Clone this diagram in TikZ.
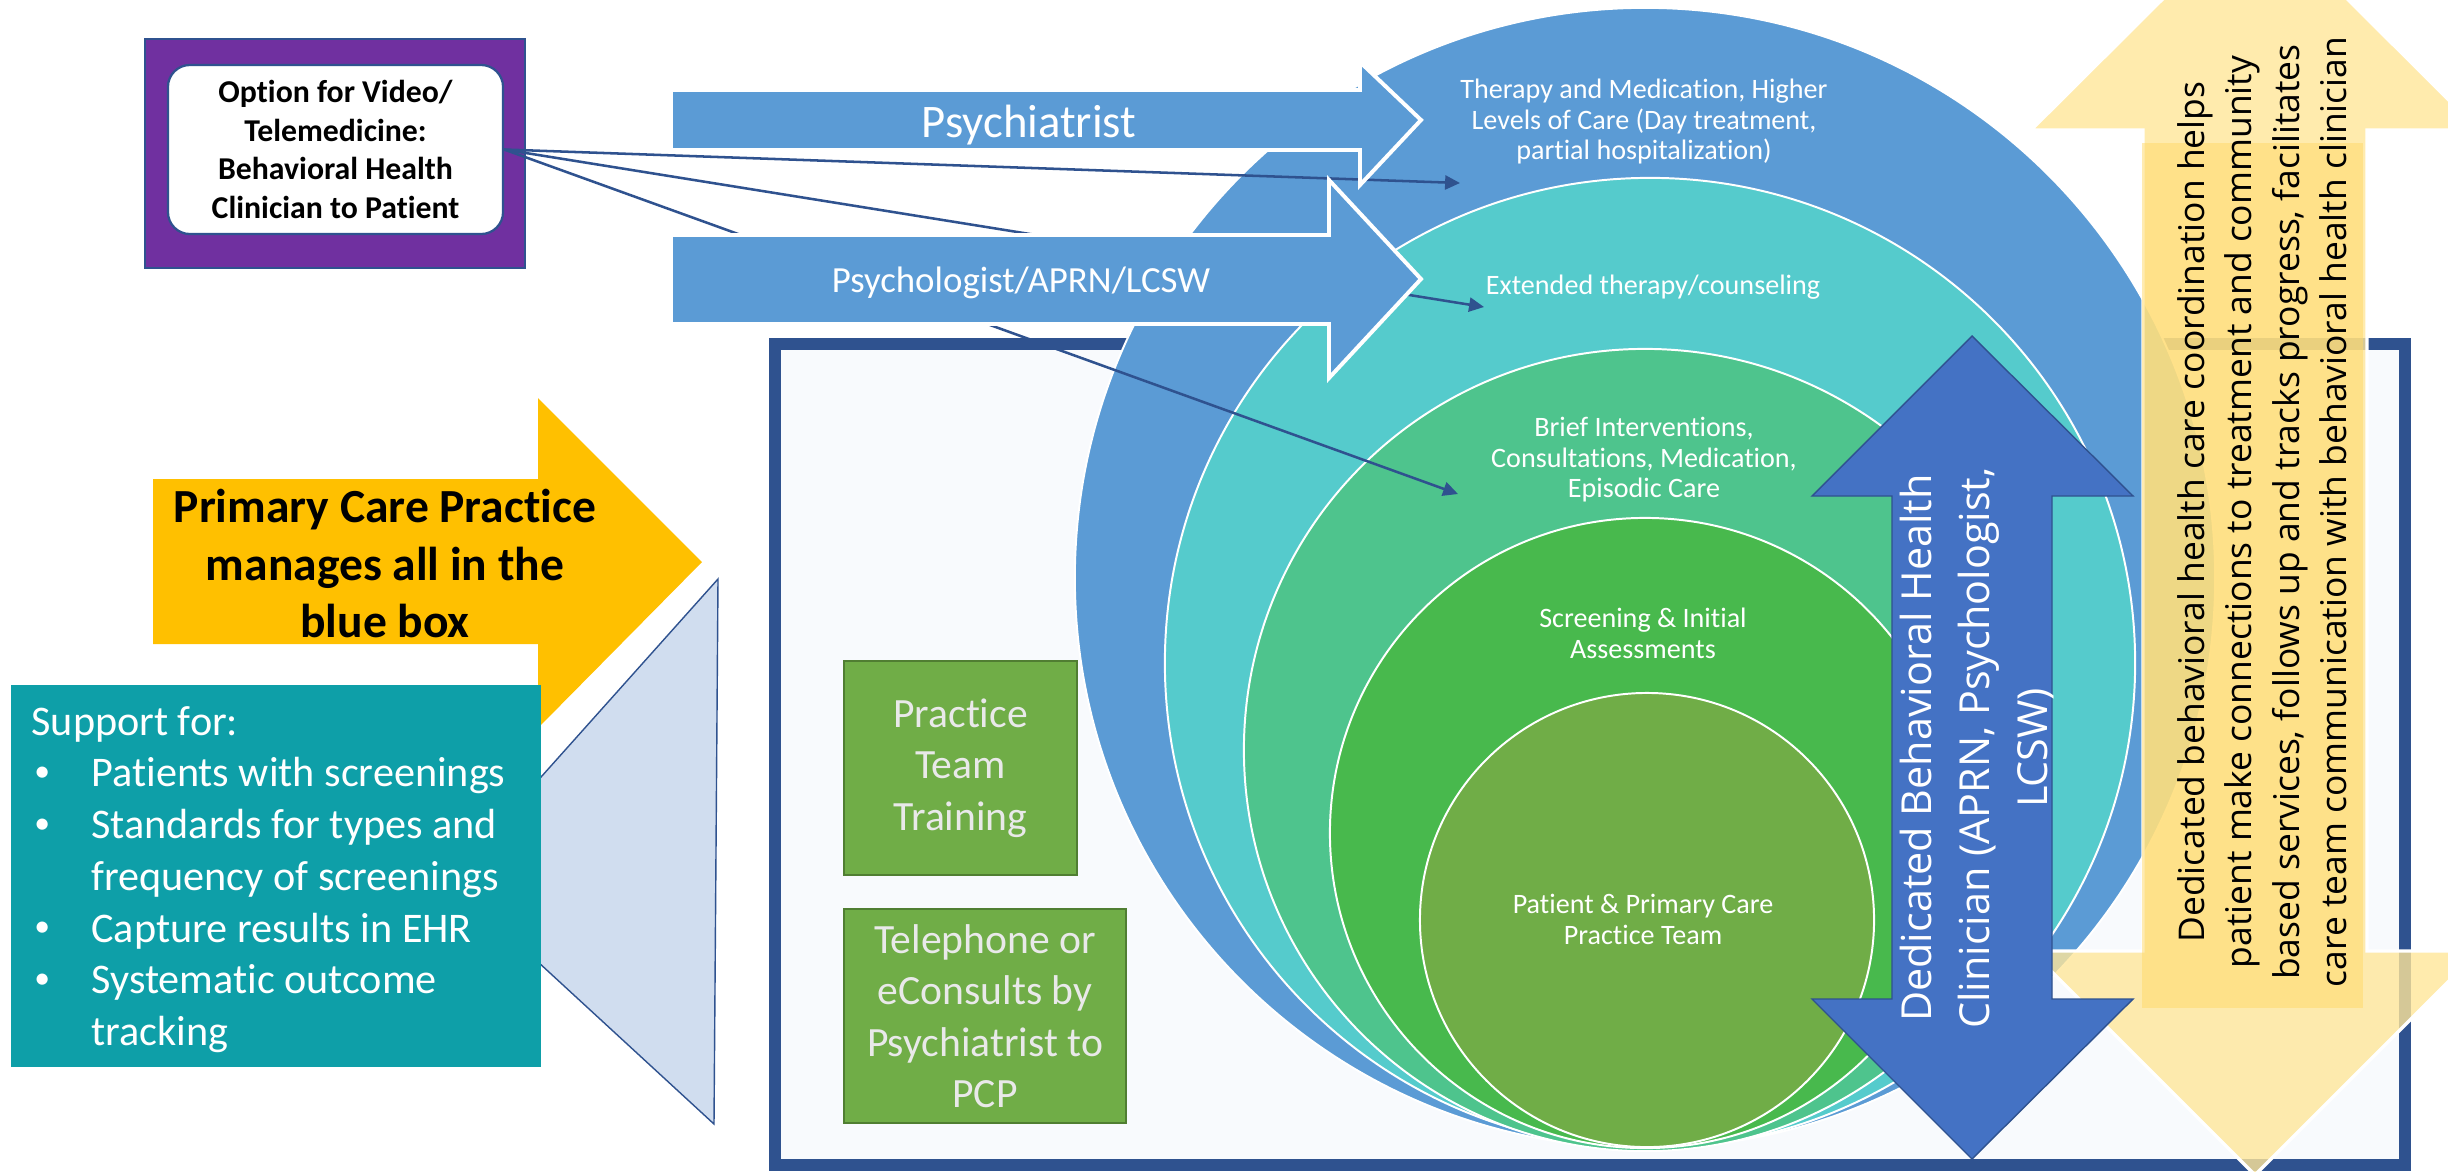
\documentclass[tikz,border=0pt]{standalone}
\usepackage{fontspec}
\setmainfont{Carlito}[Ligatures=NoCommon]
\newfontfamily\segoe{Open Sans}
\usetikzlibrary{arrows.meta}

\definecolor{frameblue}{HTML}{2F528F}
\definecolor{framefill}{HTML}{F8FAFD}
\definecolor{vidpurple}{HTML}{7030A0}
\definecolor{arrowblue}{HTML}{5B9BD5}
\definecolor{ringblue}{HTML}{5B9BD5}
\definecolor{ringteal}{HTML}{55CBCC}
\definecolor{ringmint}{HTML}{4EC48D}
\definecolor{ringgreen}{HTML}{48B94D}
\definecolor{ringolive}{HTML}{70AD47}
\definecolor{dblblue}{HTML}{4472C4}
\definecolor{goldlight}{HTML}{FFE699}
\definecolor{goldmid}{HTML}{FFD966}
\definecolor{primgold}{HTML}{FFC000}
\definecolor{supteal}{HTML}{0E9FA8}
\definecolor{funnel}{HTML}{D0DDEF}
\definecolor{boxgreen}{HTML}{70AD47}
\definecolor{boxgreenedge}{HTML}{507E32}
\definecolor{boxtext}{HTML}{E9E9E9}

\newcommand{\listdot}{\makebox[21.3pt][l]{\hspace{1pt}\raisebox{0.12em}{\scalebox{0.75}{\textbullet}}}}

\tikzset{
  ring/.style={draw=white, line width=0.7pt},
  ringtext/.style={text=white, align=center, inner sep=0pt, font=\fontsize{10}{10.85}\selectfont},
  blockarrow/.style={fill=arrowblue, draw=white, line width=1.4pt},
  link/.style={draw=frameblue, line width=0.9pt, -{Triangle[length=5.3pt,width=5pt]}},
  greenbox/.style={fill=boxgreen, draw=boxgreenedge, line width=0.7pt, inner sep=0pt,
    text=boxtext, align=center, font=\fontsize{14.8}{18.3}\selectfont},
}

\begin{document}
\begin{tikzpicture}[x=0.0125cm, y=-0.0125cm]
\useasboundingbox (0,0) rectangle (2448,1171);
\fill[white] (0,0) rectangle (2448,1171);
\clip (0,0) rectangle (2448,1171);

% video / telemedicine option
\node[fill=vidpurple, draw=frameblue, line width=0.5pt, inner sep=0pt,
      minimum width=4.75cm, minimum height=2.8625cm] (videoframe) at (335,153.5) {};
\node[fill=white, draw=frameblue, line width=0.8pt, rounded corners=7.8pt, inner sep=0pt,
      minimum width=4.1875cm, minimum height=2.1125cm, align=center,
      font=\bfseries\fontsize{11.3}{13.7}\selectfont] (video) at (335.5,149.5)
      {Option for Video/\\Telemedicine:\\Behavioral Health\\Clinician to Patient};

% practice frame
\draw[frameblue, fill=framefill, line width=4.27pt] (775,344) rectangle (2405,1165);

% nested levels of care
\path[ring, fill=ringblue]  (1645,578) circle [radius=7.125cm];
\path[ring, fill=ringteal]  (1650,663) circle [radius=6.0625cm];
\path[ring, fill=ringmint]  (1645,750) circle [radius=5.0125cm];
\path[ring, fill=ringgreen] (1645,833) circle [radius=3.9375cm];
\path[ring, fill=ringolive] (1647,920) circle [radius=2.8375cm];

\node[ringtext] (lvl5) at (1644,121.5) {Therapy and Medication, Higher\\Levels of Care (Day treatment,\\partial hospitalization)};
\node[ringtext] (lvl4) at (1653,287) {Extended therapy/counseling};
\node[ringtext] (lvl3) at (1644,460) {Brief Interventions,\\Consultations, Medication,\\Episodic Care};
\node[ringtext] (lvl2) at (1643,633.5) {Screening \& Initial\\Assessments};
\node[ringtext] (lvl1) at (1643,919.5) {Patient \& Primary Care\\Practice Team};

% telemedicine links
\coordinate (endA) at (1460,183);
\coordinate (endB) at (1484,307);
\coordinate (endC) at (1458,494);
\draw[link] (video.east) -- (endA);
\draw[link] (video.east) -- (endB);
\draw[link] (video.east) -- (endC);

% referral arrows
\path[blockarrow] (671,90) -- (1360,90) -- (1360,62) -- (1421,120) -- (1360,185) -- (1360,150) -- (671,150) -- cycle;
\path[blockarrow] (671,235) -- (1329,235) -- (1329,180) -- (1421,279) -- (1329,378) -- (1329,324) -- (671,324) -- cycle;
\node[text=white, font=\fontsize{16.6}{20}\selectfont] (psychiatrist) at (1029,125) {Psychiatrist};
\node[text=white, font=\fontsize{13.1}{16}\selectfont] (psychologist) at (1021,283) {Psychologist/APRN/LCSW};

% primary care practice
\draw[frameblue, fill=funnel, line width=0.5pt] (718,579) -- (714,1124) -- (449,880) -- cycle;
\fill[primgold] (153,479) -- (538,479) -- (538,398) -- (702,562) -- (538,728) -- (538,644) -- (153,644) -- cycle;
\node[align=center, font=\bfseries\fontsize{16.9}{20.5}\selectfont] (primary) at (385,563.5)
  {Primary Care Practice\\manages all in the\\blue box};

\fill[supteal] (11,685) rectangle (541,1067);
\node[anchor=base west, inner sep=0pt, text=white, font=\fontsize{15}{18.4}\selectfont] (support) at (31,735)
 {\begin{tabular}[t]{@{}l@{}l@{}}
  \multicolumn{2}{@{}l@{}}{Support for:}\\
  \listdot & Patients with screenings\\
  \listdot & Standards for types and\\
   & frequency of screenings\\
  \listdot & Capture results in EHR\\
  \listdot & Systematic outcome\\
   & tracking
  \end{tabular}};

% practice supports
\node[greenbox, minimum width=2.9125cm, minimum height=2.675cm] (training) at (960.5,768)
  {Practice\\Team\\Training};
\node[greenbox, minimum width=3.525cm, minimum height=2.675cm] (econsult) at (985,1016)
  {Telephone or\\eConsults by\\Psychiatrist to\\PCP};

% care coordination arrow
\path[fill=goldlight, fill opacity=0.8, draw=white, line width=1.2pt]
  (2255,-93) -- (2479,130) -- (2367,130) -- (2367,951) -- (2479,951) -- (2255,1175)
  -- (2031,951) -- (2143,951) -- (2143,130) -- (2031,130) -- cycle;
\fill[goldmid, fill opacity=0.5] (2142,143) rectangle (2363,1008);
\node[rotate=90, align=center, inner sep=0pt, font=\segoe\fontsize{12.6}{16.9}\selectfont] (coord) at (2262,512)
  {Dedicated behavioral health care coordination helps\\patient make connections to treatment and community\\based services, follows up and tracks progress, facilitates\\care team communication with behavioral health clinician};

% dedicated clinician arrow
\path[fill=dblblue, draw=frameblue, line width=0.5pt]
  (1972,336) -- (2133,496) -- (2052,496) -- (2052,999) -- (2133,999) -- (1972,1159)
  -- (1812,999) -- (1892,999) -- (1892,496) -- (1812,496) -- cycle;
\node[rotate=90, align=center, inner sep=0pt, text=white, font=\segoe\fontsize{14.7}{20.6}\selectfont] (bhc) at (1977,748)
  {Dedicated Behavioral Health\\Clinician (APRN, Psychologist,\\LCSW)};
\end{tikzpicture}
\end{document}
